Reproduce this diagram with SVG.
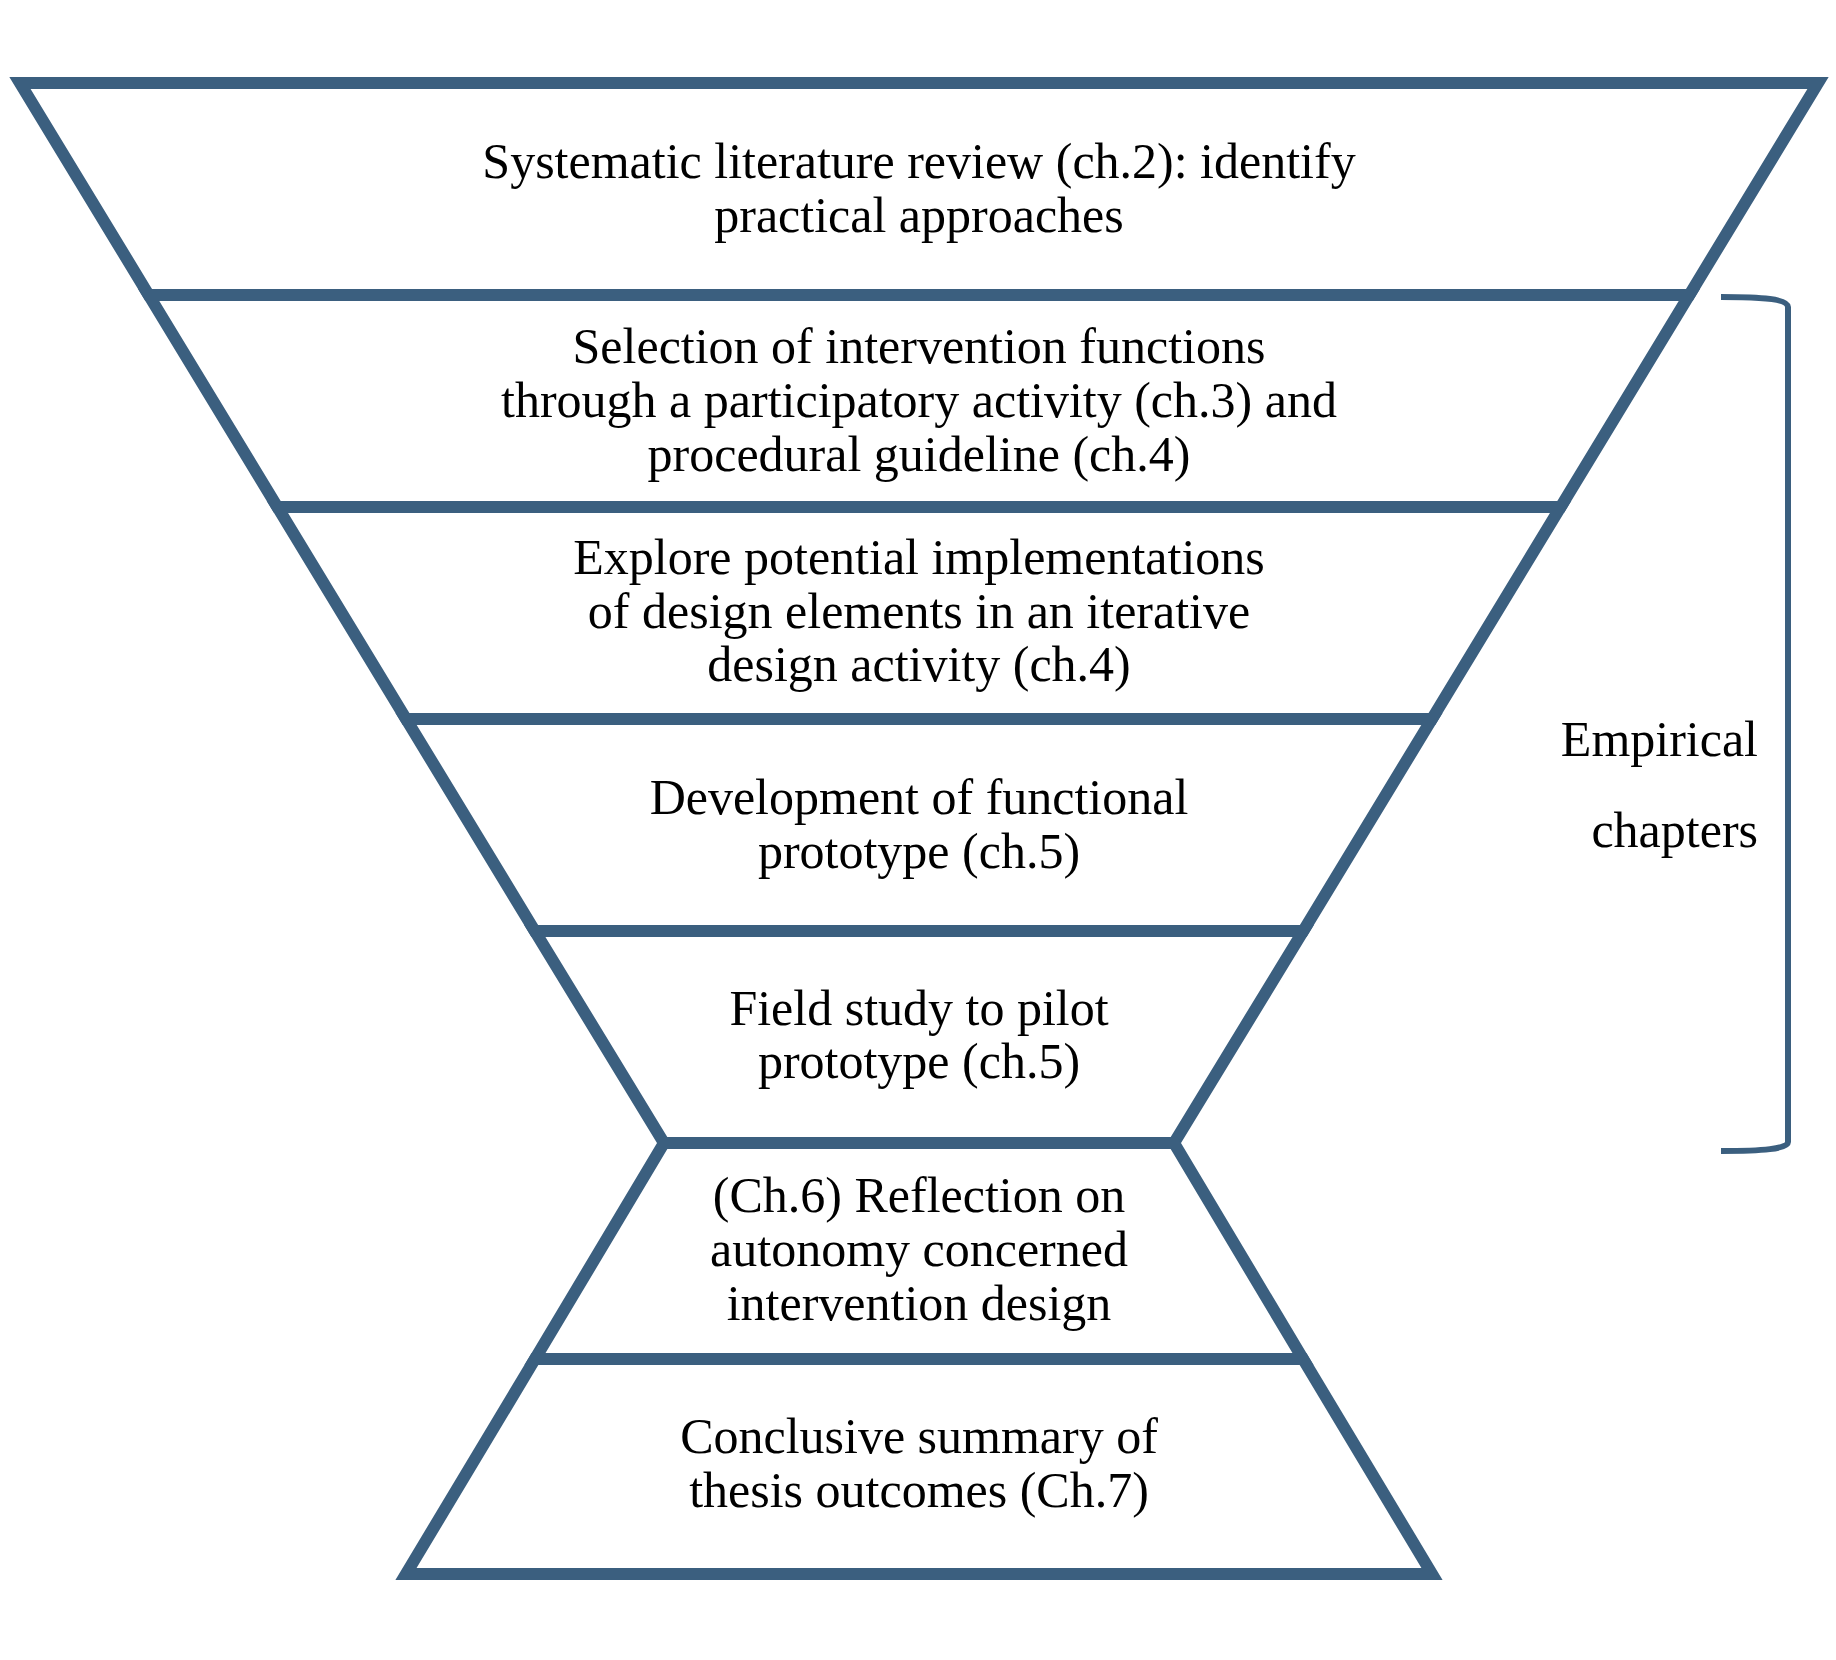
<svg xmlns="http://www.w3.org/2000/svg" width="1836" height="1660" viewBox="0 0 1836 1660">
<style>
.sec{fill:#ffffff;stroke:#3B5F7F;stroke-width:12;stroke-linejoin:miter;stroke-miterlimit:10}
.t{font-family:"Liberation Serif","Times New Roman",serif;font-size:50px;fill:#000000;text-anchor:middle}
.lbl{font-family:"Liberation Serif","Times New Roman",serif;font-size:50px;fill:#000000;text-anchor:end}
.br{fill:none;stroke:#3B5F7F;stroke-width:6;stroke-linecap:butt}
</style>
<rect width="1836" height="1660" fill="#ffffff"/>
<g id="sec1">
<polygon class="sec" points="20,83 1818,83 1689.3,295 148.7,295"/>
<text class="t" x="919" y="178">Systematic literature review (ch.2): identify</text>
<text class="t" x="919" y="232">practical approaches</text>
</g>
<g id="sec2">
<polygon class="sec" points="148.7,295 1689.3,295 1560.6,507 277.4,507"/>
<text class="t" x="919" y="363">Selection of intervention functions</text>
<text class="t" x="919" y="417">through a participatory activity (ch.3) and</text>
<text class="t" x="919" y="471">procedural guideline (ch.4)</text>
</g>
<g id="sec3">
<polygon class="sec" points="277.4,507 1560.6,507 1431.9,719 406.1,719"/>
<text class="t" x="919" y="574">Explore potential implementations</text>
<text class="t" x="919" y="628">of design elements in an iterative</text>
<text class="t" x="919" y="681">design activity (ch.4)</text>
</g>
<g id="sec4">
<polygon class="sec" points="406.1,719 1431.9,719 1303.2,931 534.8,931"/>
<text class="t" x="919" y="814">Development of functional</text>
<text class="t" x="919" y="868">prototype (ch.5)</text>
</g>
<g id="sec5">
<polygon class="sec" points="534.8,931 1303.2,931 1174,1143 664,1143"/>
<text class="t" x="919" y="1025">Field study to pilot</text>
<text class="t" x="919" y="1078">prototype (ch.5)</text>
</g>
<g id="sec6">
<polygon class="sec" points="664,1143 1174,1143 1303,1359 535,1359"/>
<text class="t" x="919" y="1212">(Ch.6) Reflection on</text>
<text class="t" x="919" y="1266">autonomy concerned</text>
<text class="t" x="919" y="1320">intervention design</text>
</g>
<g id="sec7">
<polygon class="sec" points="535,1359 1303,1359 1432,1574 406,1574"/>
<text class="t" x="919" y="1453">Conclusive summary of</text>
<text class="t" x="919" y="1507">thesis outcomes (Ch.7)</text>
</g>
<g id="connectors">
<path class="br" d="M1721,297 C1762,297 1788,299 1788,307 L1788,1142 C1788,1149 1762,1151 1721,1151"/>
</g>
<g id="empirical">
<text class="lbl" x="1758" y="756">Empirical</text>
<text class="lbl" x="1758" y="847">chapters</text>
</g>
</svg>
